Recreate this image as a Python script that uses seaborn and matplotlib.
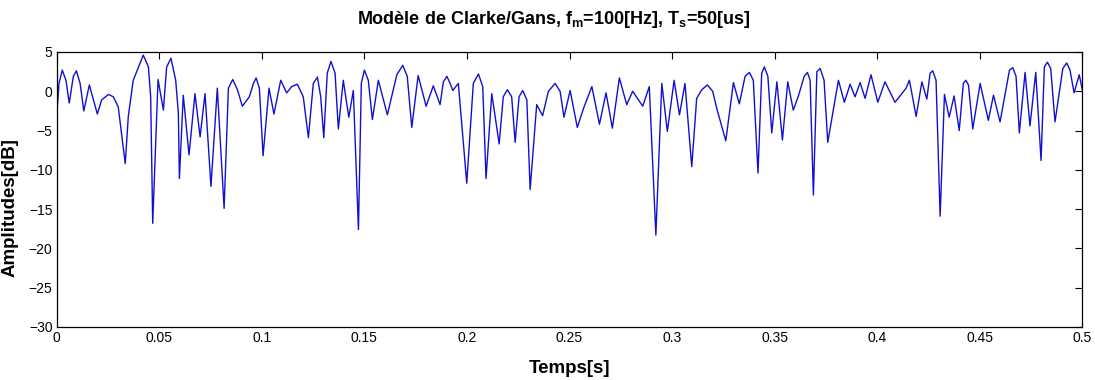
import numpy as np
import pandas as pd
import matplotlib
matplotlib.use('Agg')
import matplotlib.pyplot as plt
import seaborn as sns

# Signal (peaks and nulls), time in s, amplitude in dB
temps = [0.0000, 0.0027, 0.0061, 0.0096, 0.0132, 0.0159, 0.0198, 0.0252, 0.0300, 0.0334,
         0.0422, 0.0468, 0.0494, 0.0520, 0.0557, 0.0598, 0.0617, 0.0645, 0.0674, 0.0699,
         0.0723, 0.0752, 0.0783, 0.0816, 0.0858, 0.0905, 0.0939, 0.0972, 0.1006, 0.1035,
         0.1059, 0.1092, 0.1121, 0.1173, 0.1227, 0.1271, 0.1302, 0.1337, 0.1373, 0.1397,
         0.1424, 0.1446, 0.1471, 0.1500, 0.1539, 0.1568, 0.1612, 0.1687, 0.1731, 0.1762,
         0.1801, 0.1836, 0.1869, 0.1902, 0.1931, 0.1958, 0.1999, 0.2056, 0.2093, 0.2121,
         0.2157, 0.2197, 0.2235, 0.2272, 0.2308, 0.2340, 0.2369, 0.2430, 0.2473, 0.2503,
         0.2538, 0.2568, 0.2609, 0.2646, 0.2678, 0.2709, 0.2743, 0.2779, 0.2808, 0.2857,
         0.2889, 0.2921, 0.2950, 0.2977, 0.3010, 0.3036, 0.3063, 0.3096, 0.3120, 0.3172,
         0.3218, 0.3262, 0.3299, 0.3328, 0.3377, 0.3419, 0.3450, 0.3486, 0.3511, 0.3538,
         0.3564, 0.3591, 0.3616, 0.3660, 0.3689, 0.3722, 0.3759, 0.3811, 0.3840, 0.3868,
         0.3892, 0.3917, 0.3941, 0.3970, 0.4003, 0.4038, 0.4087, 0.4141, 0.4157, 0.4190,
         0.4218, 0.4242, 0.4271, 0.4307, 0.4328, 0.4351, 0.4375, 0.4400, 0.4432, 0.4466,
         0.4502, 0.4542, 0.4567, 0.4599, 0.4661, 0.4693, 0.4721, 0.4745, 0.4773, 0.4799,
         0.4830, 0.4867, 0.4924, 0.4960, 0.4985, 0.5000]
amplitude = [-3.3, 2.7, -1.5, 2.6, -2.5, 0.8, -2.9, -0.4, -2.0, -9.2,
             4.6, -16.8, 1.5, -2.4, 4.2, -11.1, -0.5, -8.1, -0.3, -5.8,
             -0.3, -12.1, 0.4, -14.9, 1.5, -1.9, -0.7, 1.7, -8.2, 0.4,
             -2.9, 1.4, -0.2, 0.9, -5.9, 1.8, -5.9, 3.8, -4.8, 1.4,
             -3.3, 0.1, -17.6, 2.7, -3.6, 1.4, -3.0, 3.3, -4.6, 2.0,
             -1.9, 0.7, -1.7, 1.9, 0.1, 1.0, -11.7, 2.2, -11.1, -0.3,
             -6.7, 0.2, -6.5, 0.1, -12.5, -1.7, -3.1, 1.0, -3.3, 0.1,
             -4.6, -2.2, 0.6, -4.2, -0.2, -4.7, 1.7, -1.7, 0.0, -1.9,
             0.6, -18.3, 1.0, -5.1, 1.4, -3.0, 1.0, -9.6, -0.9, 0.8,
             -2.2, -6.3, 1.1, -1.6, 2.4, -10.4, 3.1, -5.3, 1.2, -6.2,
             1.2, -2.4, -0.6, 2.4, -13.2, 2.9, -6.5, 1.4, -1.4, 0.9,
             -0.7, 1.1, -0.9, 2.1, -1.4, 1.2, -1.4, 0.4, 1.4, -3.2,
             1.2, -1.0, 2.6, -15.9, -0.4, -3.3, -0.6, -5.0, 1.4, -4.8,
             1.0, -3.7, -0.5, -3.9, 3.0, -5.3, 2.4, -4.4, 2.4, -8.8,
             3.7, -3.9, 3.6, -0.2, 2.1, 0.2]

# extra points read on the flanks of the lobes (rounded tops)
temps_flanc = [0.0011, 0.0045, 0.0081, 0.0114, 0.0219, 0.0276, 0.0349, 0.0373, 0.0447, 0.0458,
               0.0536, 0.0580, 0.0593, 0.0837, 0.0881, 0.0959, 0.0988, 0.1146, 0.1202, 0.1251,
               0.1287, 0.1319, 0.1357, 0.1485, 0.1519, 0.1658, 0.1709, 0.1885, 0.1918, 0.2031,
               0.2077, 0.2177, 0.2218, 0.2254, 0.2292, 0.2397, 0.2454, 0.3145, 0.3198, 0.3356,
               0.3396, 0.3437, 0.3467, 0.3644, 0.3673, 0.3706, 0.3741, 0.4258, 0.4287, 0.4420,
               0.4445, 0.4645, 0.4677, 0.4815, 0.4846, 0.4905, 0.4940]
amplitude_flanc = [1.0, 1.4, 1.9, 1.0, -1.1, -0.7, -3.2, 1.4, 3.1, -0.7,
                   3.1, 1.4, -2.8, 0.4, 0.2, 1.0, 0.4, 0.6, -0.7, 1.0,
                   -0.7, 2.3, 2.3, 1.0, 1.4, 2.1, 1.9, 1.2, 1.0, 1.0,
                   0.6, -0.7, -0.7, -0.7, -1.1, 0.0, 0.0, 0.2, 0.0, 1.9,
                   1.4, 2.3, 1.9, 1.9, 1.4, 2.5, 1.4, 2.3, 1.4, 1.0,
                   0.8, 2.7, 1.9, 3.1, 2.9, 2.9, 2.7]

xticks = [0, 0.05, 0.1, 0.15, 0.2, 0.25, 0.3, 0.35, 0.4, 0.45, 0.5]
xtick_labels = ['0', '0.05', '0.1', '0.15', '0.2', '0.25', '0.3', '0.35', '0.4', '0.45', '0.5']
yticks = [-30, -25, -20, -15, -10, -5, 0, 5]

df = pd.DataFrame({'temps': temps + temps_flanc, 'amp': amplitude + amplitude_flanc})
df = df.sort_values('temps')

sns.set_style('white')
plt.rcParams['font.family'] = ['Liberation Sans', 'DejaVu Sans']
plt.rcParams['mathtext.fontset'] = 'custom'
plt.rcParams['mathtext.bf'] = 'Liberation Sans:bold'
plt.rcParams['mathtext.rm'] = 'Liberation Sans'
plt.rcParams['mathtext.default'] = 'bf'
plt.rcParams['text.color'] = 'black'
plt.rcParams['axes.labelcolor'] = 'black'

fig = plt.figure(figsize=(10.95, 3.8), dpi=100)
ax = fig.add_axes([0.0518, 0.1395, 0.9366, 0.7237])

sns.lineplot(data=df, x='temps', y='amp', ax=ax, color='#1010d0', linewidth=1.0,
             estimator=None, sort=False)

ax.set_xlim(0, 0.5)
ax.set_ylim(-30, 5)
ax.set_xticks(xticks)
ax.set_xticklabels(xtick_labels)
ax.set_yticks(yticks)
ax.tick_params(direction='in', length=5, width=0.8, colors='black', labelsize=10,
               top=True, right=True, pad=3)
for s in ax.spines.values():
    s.set_color('black')
    s.set_linewidth(0.9)

ax.set_xlabel('Temps[s]', fontsize=13.5, fontweight='bold', labelpad=11, color='black')
ax.set_ylabel('Amplitudes[dB]', fontsize=13.5, fontweight='bold', color='black')
ax.yaxis.set_label_coords(-0.0377, 0.433)
ax.set_title('Modèle de Clarke/Gans, f$_{m}$=100[Hz], T$_{s}$=50[us]',
             fontsize=13, fontweight='bold', pad=20, x=0.485, color='black')

fig.savefig('out.png', dpi=100)
